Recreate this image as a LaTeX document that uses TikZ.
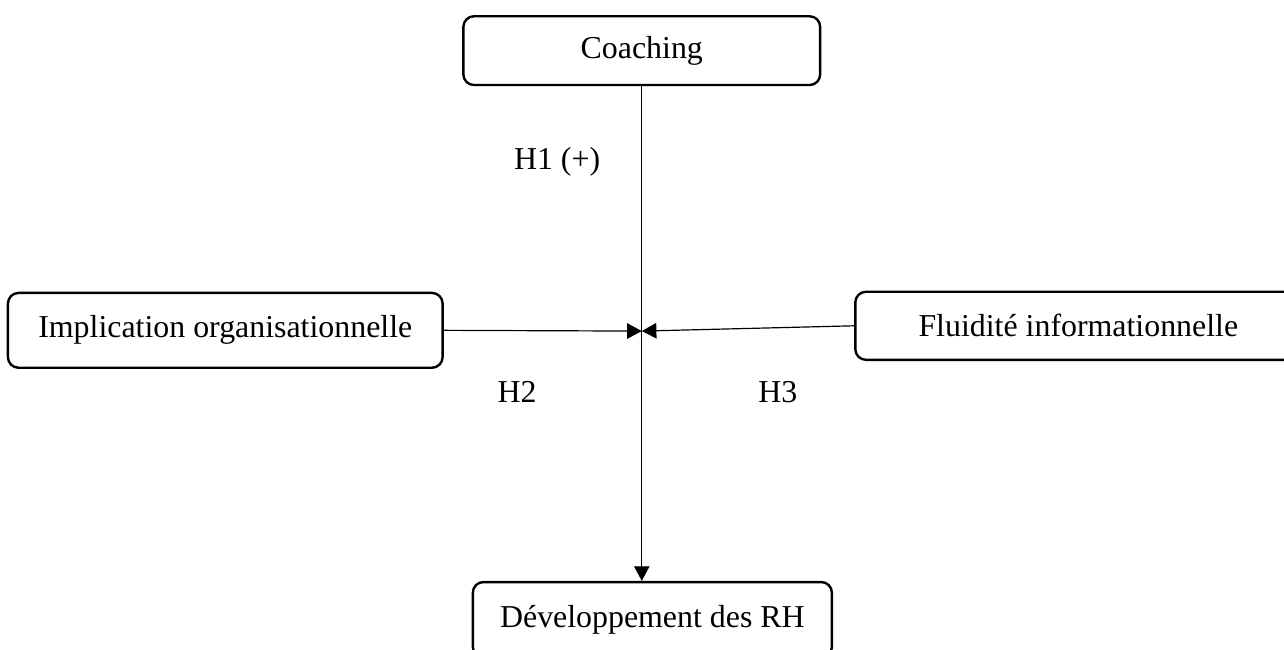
\documentclass[tikz,border=0pt]{standalone}
\usepackage{fontspec}
\setmainfont{Liberation Serif}
\usetikzlibrary{arrows.meta}
\usetikzlibrary{shapes.misc}

\begin{document}
\begin{tikzpicture}[
            auto, >={Triangle[length=5.5pt,width=5.8pt]},
            font=\fontsize{12}{14}\selectfont,
            block/.style={draw, rectangle, rounded corners=4pt, line width=0.9pt, align=center, inner sep=0pt},
            link/.style={->, line width=0.45pt},
            hyp/.style={inner sep=1pt},
        ]
            \useasboundingbox (0,0) rectangle (16.986,-8.586);
            \node [block, minimum width=4.72cm, minimum height=0.91cm] (coach) at (8.49,-0.67) {Coaching};
            \node [block, minimum width=5.75cm, minimum height=0.99cm] (impl) at (2.98,-4.37) {Implication organisationnelle};
            \node [block, minimum width=5.90cm, minimum height=0.90cm] (fluid) at (14.265,-4.31) {Fluidité informationnelle};
            \node [block, minimum width=4.75cm, minimum height=1.00cm] (devrh) at (8.63,-8.20) {Développement des RH};
            \coordinate (hub) at (8.49,-4.38);
            \draw [link] (coach.south) -- (coach.south |- devrh.north);
            \draw [link] (impl.east) -- (hub);
            \draw [link] (fluid.west) -- (hub);
            \node [hyp] (h1) at (7.37,-2.14) {H1 (+)};
            \node [hyp] (h2) at (6.84,-5.19) {H2};
            \node [hyp] (h3) at (10.29,-5.19) {H3};
        \end{tikzpicture}
\end{document}
